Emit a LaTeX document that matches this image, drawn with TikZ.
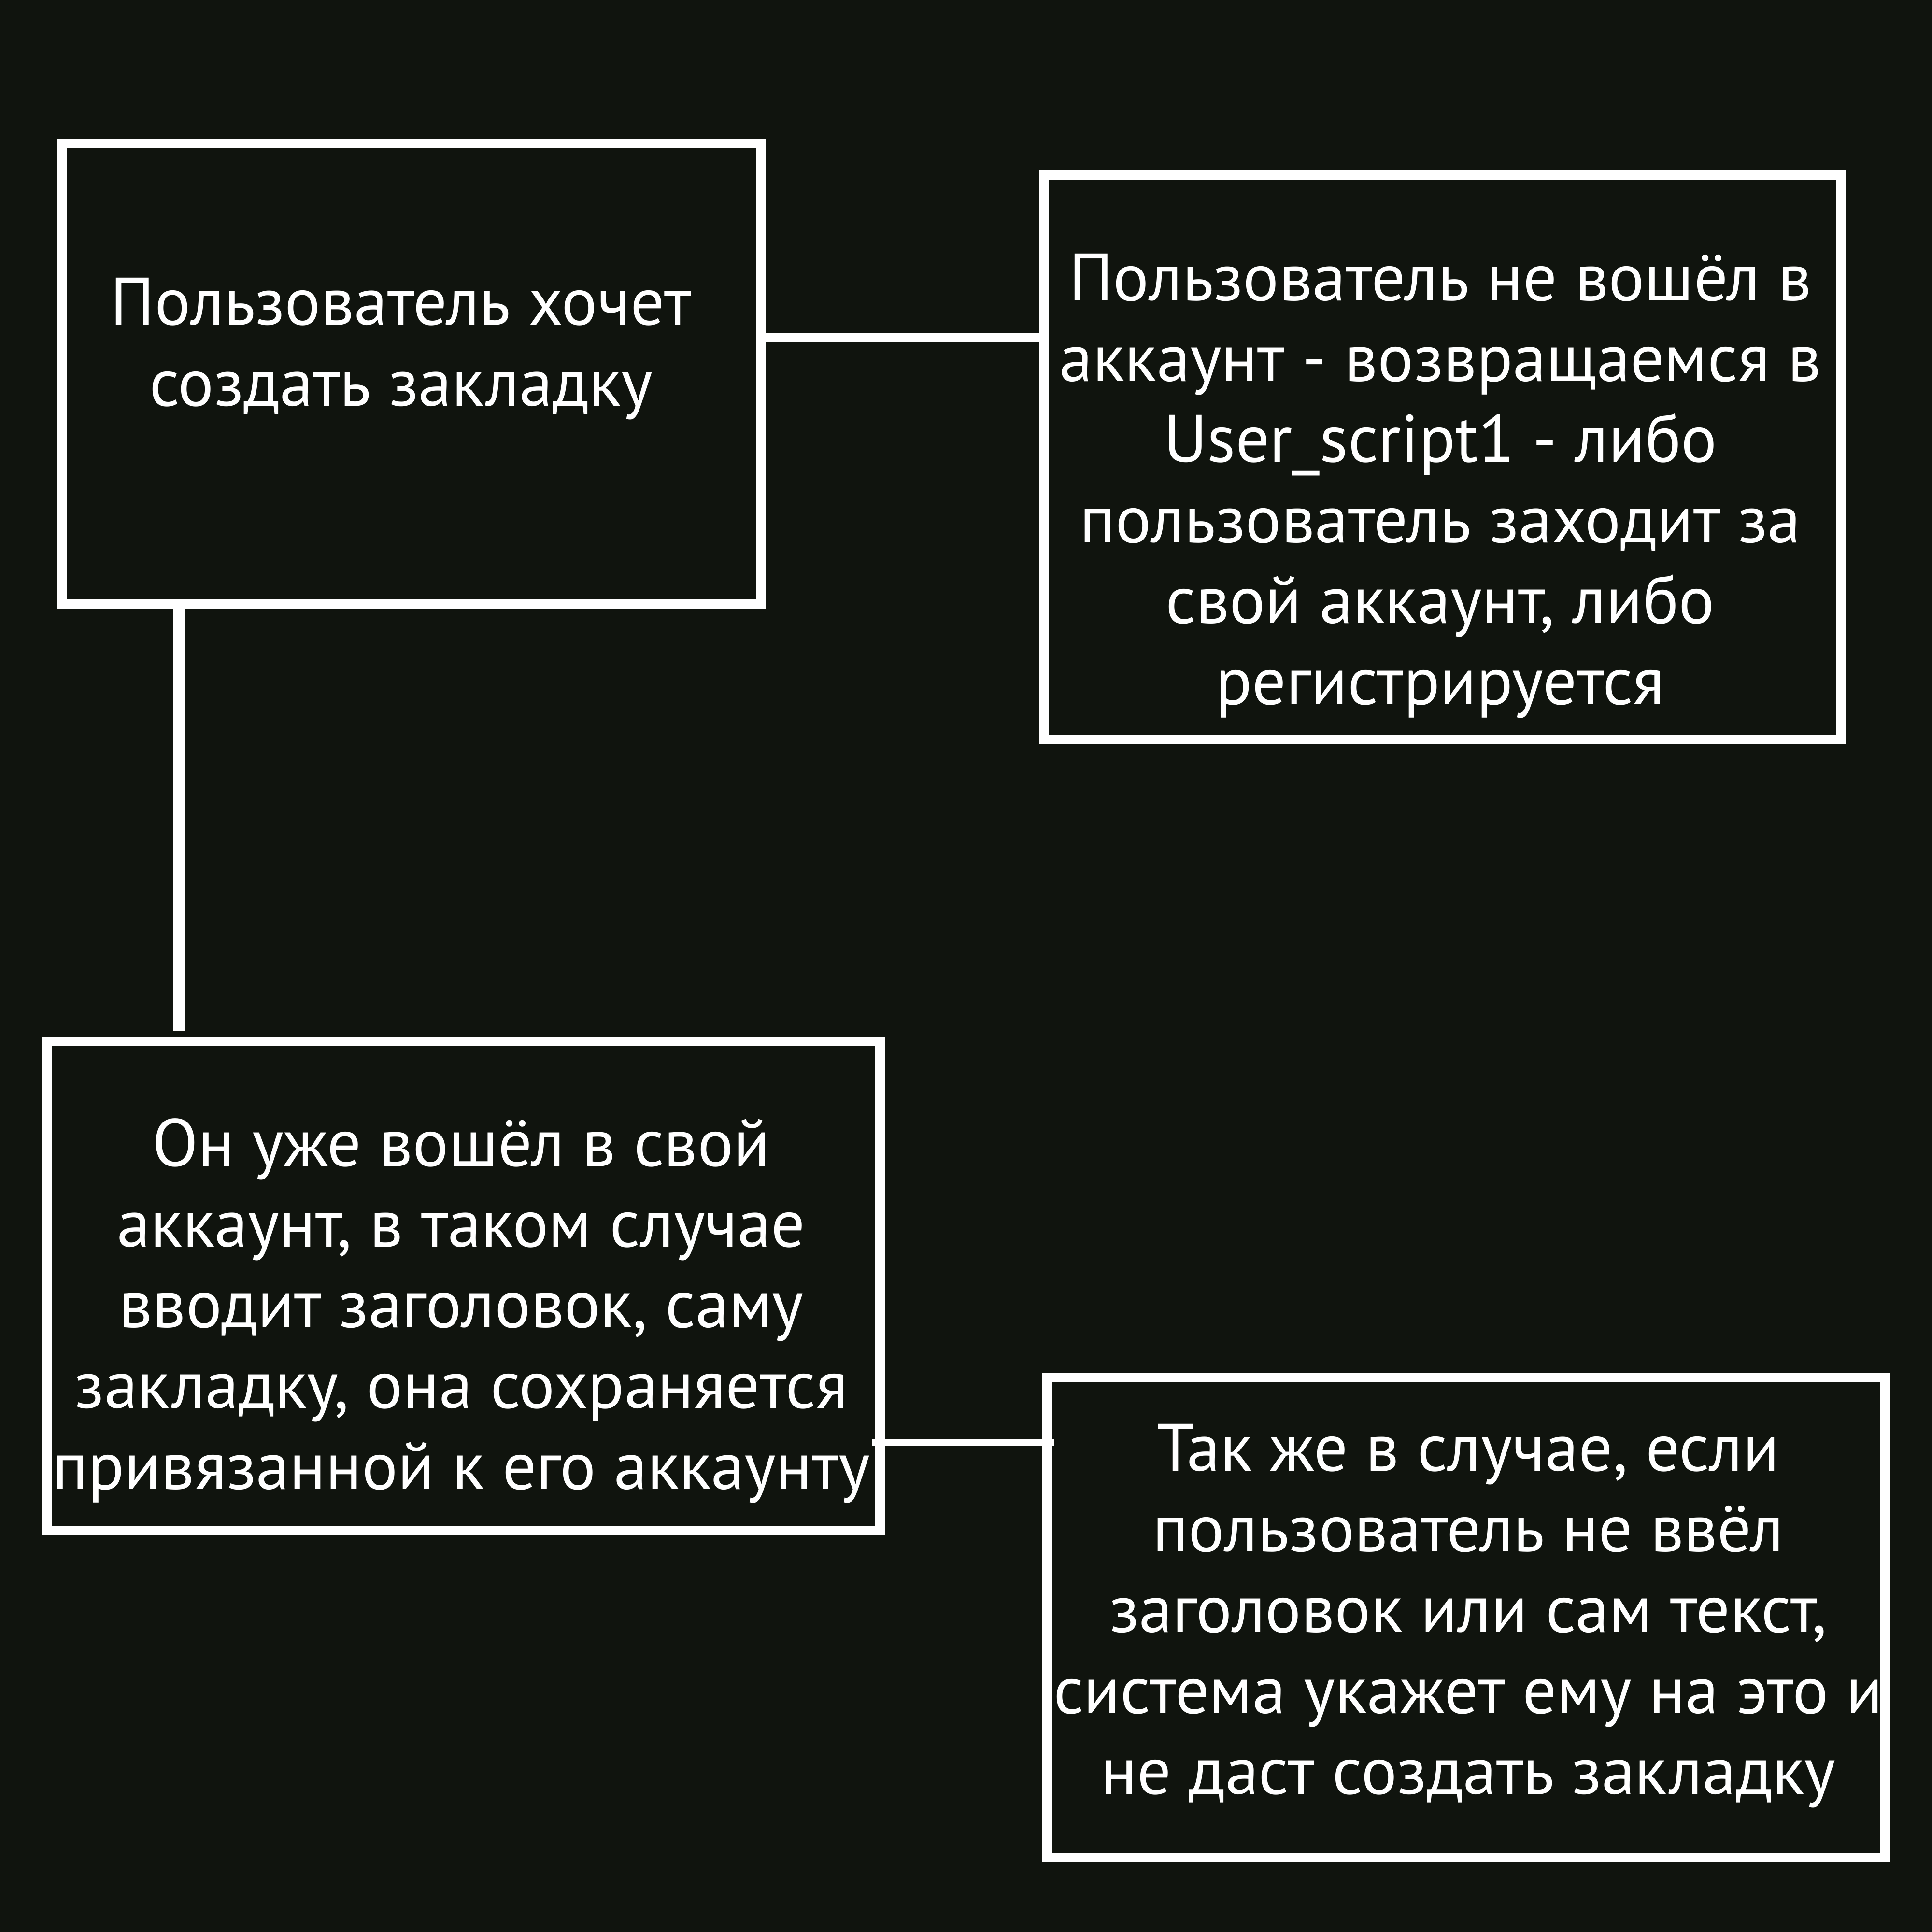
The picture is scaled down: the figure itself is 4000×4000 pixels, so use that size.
\documentclass[tikz,border=0pt]{standalone}
\usepackage{fontspec}
\setmainfont{PT Sans}
\definecolor{bgdark}{RGB}{16,20,14}

\begin{document}
\begin{tikzpicture}[x=0.01cm,y=-0.01cm,
	box/.style={draw=white,line width=0.2cm,inner sep=0pt,outer sep=0pt},
	txt/.style={white,align=center,anchor=base,inner sep=0pt,font=\fontsize{39.5}{47.5}\selectfont},
	link/.style={white,line width=0.2cm}]

	\fill[bgdark] (0,0) rectangle (4000,4000);
	\useasboundingbox (0,0) rectangle (4000,4000);

	% boxes
	\node[box,minimum width=14.46cm,minimum height=9.53cm] (box1) at (852,773.5) {};
	\node[box,minimum width=16.49cm,minimum height=11.68cm] (box2) at (2986.5,947) {};
	\node[box,minimum width=17.23cm,minimum height=10.13cm] (box3) at (959.5,2662.5) {};
	\node[box,minimum width=17.34cm,minimum height=9.94cm] (box4) at (3035,3349) {};

	% texts (anchored on the last line)
	\node[txt] (t1) at (830,840) {Пользователь хочет\\создать закладку};
	\node[txt] (t2) at (2982,1458) {Пользователь не вошёл в\\аккаунт - возвращаемся в\\User\_script1 - либо\\пользователь заходит за\\свой аккаунт, либо\\регистрируется};
	\node[txt] (t3) at (955,3083) {Он уже вошёл в свой\\аккаунт, в таком случае\\вводит заголовок, саму\\закладку, она сохраняется\\привязанной к его аккаунту};
	\node[txt] (t4) at (3040,3714) {Так же в случае, если\\пользователь не ввёл\\заголовок или сам текст,\\система укажет ему на это и\\не даст создать закладку};

	% connectors
	\coordinate (c1) at (0,699);
	\coordinate (c2) at (371,2135);
	\coordinate (c3) at (0,2986);
	\draw[link,line width=0.19cm] (box1.east |- c1) -- (box2.west |- c1);
	\draw[link,line width=0.25cm] (box1.south -| c2) -- (c2);
	\draw[link,line width=0.13cm,shorten <=-0.16cm,shorten >=-0.15cm] (box3.east |- c3) -- (box4.west |- c3);
\end{tikzpicture}
\end{document}
